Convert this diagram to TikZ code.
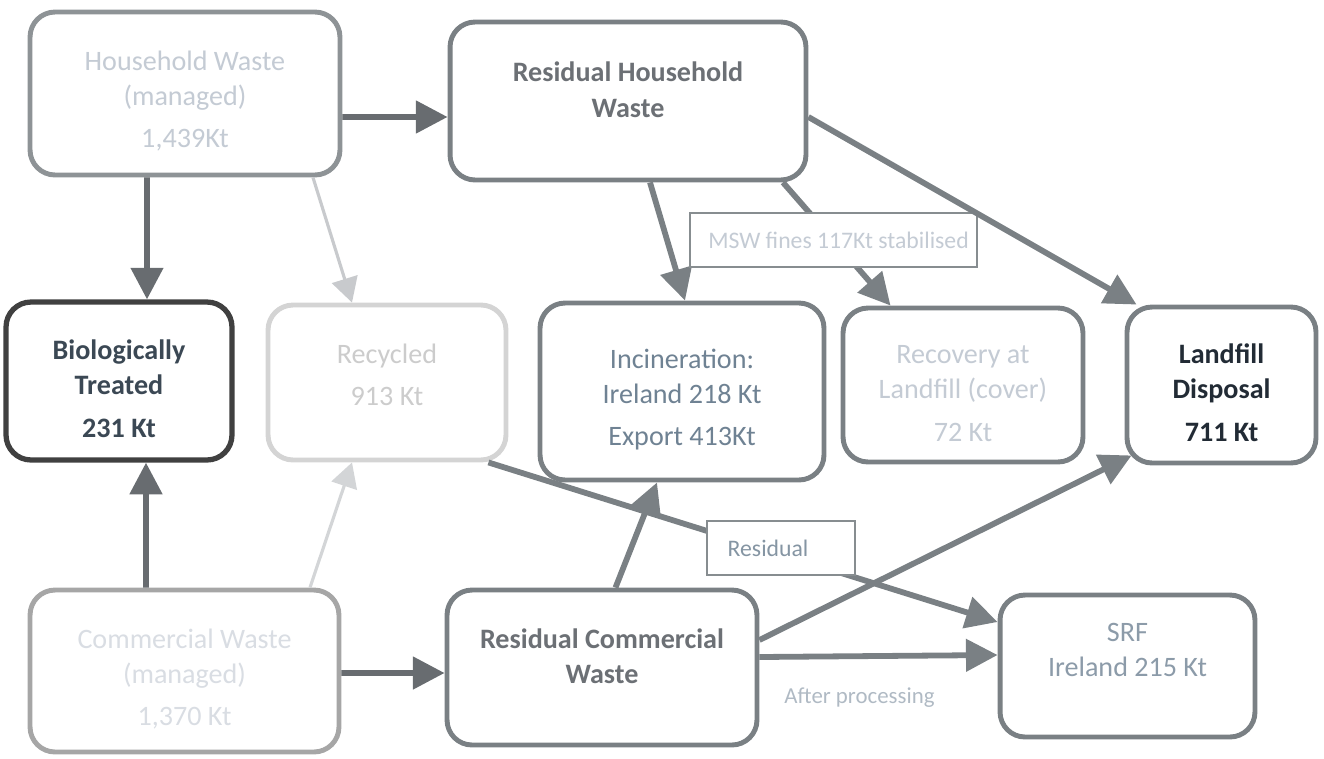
\documentclass[tikz,border=0pt]{standalone}
\usepackage{fontspec}
\setmainfont{Carlito}
\usetikzlibrary{arrows.meta}

\definecolor{boxgray}{HTML}{7A8084}
\definecolor{flowdark}{HTML}{686C70}
\definecolor{flowlight}{HTML}{C8CACD}
\definecolor{paletext}{HTML}{C4CBD4}
\definecolor{greytext}{HTML}{6C7075}
\definecolor{slatetext}{HTML}{6F8293}
\definecolor{darktext}{HTML}{3B4854}
\definecolor{inktext}{HTML}{222B35}

\newcommand{\topgap}{\rule{0pt}{20pt}}

\begin{document}
\begin{tikzpicture}[x=0.02cm,y=-0.02cm,
    font=\fontsize{16}{20}\selectfont,
    >={Triangle[length=18pt,width=18pt]},
    box/.style={draw=boxgray,line width=2.8pt,rounded corners=0.5cm,
        align=center,inner sep=0pt,fill=white},
    boldbox/.style={box,font=\fontsize{16}{20}\selectfont\bfseries},
    flow/.style={->,line width=3.3pt,draw=boxgray},
    tag/.style={draw=boxgray!90,line width=1.2pt,fill=white,inner sep=0pt,
        font=\fontsize{13.5}{16}\selectfont,minimum height=1.08cm}]
    \useasboundingbox (0,0) rectangle (1324,758);

    % boxes
    \node[box,minimum width=6.2cm,minimum height=3.26cm,draw=boxgray!85,
        text=paletext] (hw) at (185,93.5)
        {\topgap Household Waste\\(managed)\\[4pt]1,439Kt};
    \node[boldbox,minimum width=7.12cm,minimum height=3.16cm,text=greytext] (rhw) at (628,101)
        {Residual Household\\Waste\\[-7pt]\mbox{}};
    \node[boldbox,minimum width=4.52cm,minimum height=3.16cm,draw=black!75,line width=3pt,
        text=darktext] (bt) at (119,381)
        {\topgap Biologically\\Treated\\[4pt]231 Kt};
    \node[box,minimum width=4.76cm,minimum height=3.1cm,draw=black!17,
        text=black!20] (rec) at (387,382.5)
        {Recycled\\[4pt]913 Kt\\[-11pt]\mbox{}};
    \node[box,minimum width=5.68cm,minimum height=3.54cm,text=slatetext] (inc) at (682,391.5)
        {\topgap Incineration:\\Ireland 218 Kt\\[4pt]Export 413Kt};
    \node[box,minimum width=4.8cm,minimum height=3.08cm,text=paletext] (recl) at (963,385)
        {\topgap Recovery at\\Landfill (cover)\\[4pt]72 Kt};
    \node[boldbox,minimum width=3.78cm,minimum height=3.12cm,text=inktext] (lf) at (1221.5,385)
        {\topgap Landfill\\Disposal\\[4pt]711 Kt};
    \node[box,minimum width=6.18cm,minimum height=3.24cm,draw=black!35,
        text=paletext!65] (cw) at (184.5,671)
        {\topgap Commercial Waste\\(managed)\\[4pt]1,370 Kt};
    \node[boldbox,minimum width=6.2cm,minimum height=3.1cm,text=greytext] (rcw) at (602,667.5)
        {Residual Commercial\\Waste\\[-7pt]\mbox{}};
    \node[box,minimum width=5.1cm,minimum height=2.84cm,text=slatetext!80] (srf) at (1127.5,666)
        {SRF\\Ireland 215 Kt\\[-2pt]\mbox{}};

    % flows out of household and commercial waste
    \draw[flow,draw=flowdark] ([yshift=-0.47cm]hw.east) -- ([yshift=-0.32cm]rhw.west);
    \draw[flow,draw=flowdark] ([xshift=-0.76cm]hw.south) -- ([xshift=0.56cm]bt.north);
    \draw[flow,draw=flowlight,line width=1.8pt,-{Triangle[length=14pt,width=15pt]}]
        ([xshift=2.56cm]hw.south) -- ([xshift=-0.7cm]rec.north);
    \draw[flow,draw=flowdark] ([xshift=-0.77cm]cw.north) -- ([xshift=0.54cm]bt.south);
    \draw[flow,draw=flowlight!80,line width=1.8pt,-{Triangle[length=14pt,width=15pt]}]
        ([xshift=2.51cm]cw.north) -- ([xshift=-0.7cm]rec.south);
    \draw[flow,draw=flowdark] ([yshift=-0.04cm]cw.east) -- ([yshift=-0.11cm]rcw.west);

    % residual household waste
    \draw[flow] ([xshift=0.44cm]rhw.south) -- ([xshift=0.06cm]inc.north);
    \draw[flow] ([xshift=3.1cm]rhw.south) -- ([xshift=-1.45cm]recl.north)
        node[tag,pos=0.47,minimum width=5.74cm,text=paletext] (msw)
        {\hspace{0.2cm}MSW fines 117Kt stabilised};
    \draw[flow] ([yshift=-0.32cm]rhw.east) -- ([xshift=0.24cm]lf.north west);

    % residual commercial waste
    \draw[flow] ([xshift=0.27cm]rcw.north) -- ([xshift=-0.5cm]inc.south);
    \draw[flow] ([yshift=0.55cm]rcw.east) -- ([shift={(0.14cm,0.2cm)}]lf.south west);
    \draw[flow] ([yshift=0.21cm]rcw.east) -- ([yshift=0.22cm]srf.west)
        node[pos=0.42,below=0.57cm,inner sep=0pt,font=\fontsize{13}{16}\selectfont,
        text=slatetext!55] (after) {After processing};

    % recycled residual
    \draw[flow] ([xshift=-0.4cm]rec.south east) -- ([yshift=0.88cm]srf.west)
        node[tag,pos=0.574,yshift=0.12cm,text width=2.12cm,align=left,inner xsep=0.42cm,
        text=slatetext!85] (resid) {Residual};
\end{tikzpicture}
\end{document}
